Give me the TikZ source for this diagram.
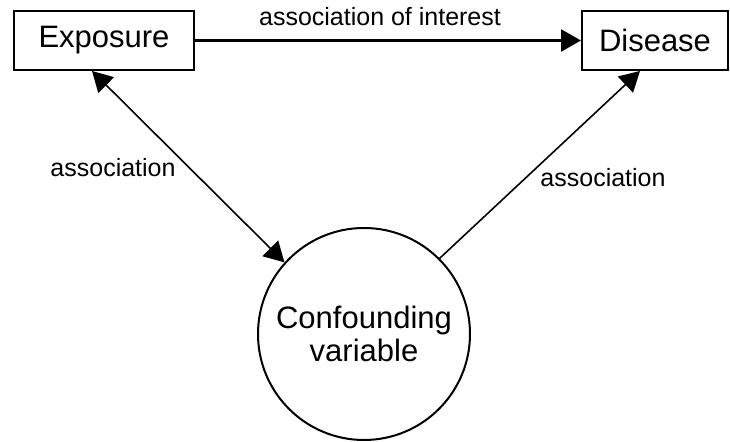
\documentclass[tikz,border=0pt]{standalone}
\usepackage{fontspec}
\setmainfont{Liberation Sans}
\usetikzlibrary{arrows.meta}

\begin{document}
\begin{tikzpicture}[x=0.5pt,y=-0.5pt,
   box/.style={draw,line width=1pt,inner sep=0pt,minimum height=29.5pt,
     font=\fontsize{15.5}{18}\selectfont},
   link/.style={line width=0.8pt,-{Triangle[length=10pt,width=11pt]}},
   lbl/.style={inner sep=0pt,font=\fontsize{12.5}{15}\selectfont}]
   \useasboundingbox (0,0) rectangle (730,442);
   \node [box,minimum width=90pt] (exposure) at (104,40.5) {Exposure};
   \node [box,minimum width=73pt] (disease) at (655,40.5) {Disease};
   \node [draw,circle,line width=1pt,minimum size=106pt,inner sep=0pt,align=center,
     font=\fontsize{15.5}{16.5}\selectfont] (confound) at (364,334) {Confounding\\variable};
   % arrows between the nodes
   \draw [link,line width=1.3pt] (exposure.east) -- (disease.west);
   \draw [link,{Triangle[length=10pt,width=11pt]}-{Triangle[length=10pt,width=11pt]}]
     ([xshift=-6pt]exposure.south) -- (confound.138);
   \draw [link] (confound.45) -- ([xshift=-7.5pt]disease.south);
   \node [lbl] (interest) at (380,17) {association of interest};
   \node [lbl] (assocleft) at (113,168) {association};
   \node [lbl] (assocright) at (603,178) {association};
\end{tikzpicture}
\end{document}
